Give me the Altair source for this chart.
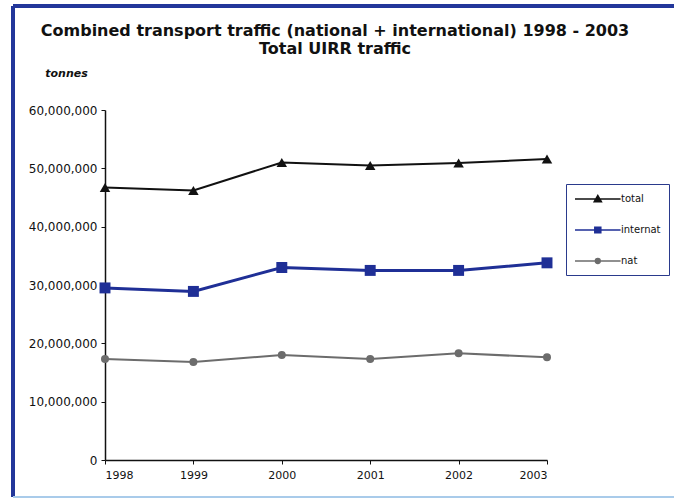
import altair as alt
import pandas as pd

# Combined transport traffic, tonnes per year
years = [1998, 1999, 2000, 2001, 2002, 2003]
total = [46_700_000, 46_200_000, 51_000_000, 50_500_000, 50_900_000, 51_600_000]
internat = [29_500_000, 28_900_000, 33_000_000, 32_500_000, 32_500_000, 33_800_000]
nat = [17_300_000, 16_800_000, 18_000_000, 17_300_000, 18_300_000, 17_600_000]

series_names = ["total", "internat", "nat"]
y_ticks = [0, 10_000_000, 20_000_000, 30_000_000, 40_000_000, 50_000_000, 60_000_000]

# styling per series
series_colors = ["#111111", "#1f2f96", "#6c6c6c"]
marker_shapes = ["triangle-up", "square", "circle"]
marker_sizes = [110, 120, 64]
line_widths = [2, 3, 2]
# legend glyphs: a short line with the series marker in the middle
legend_paths = [
    "M-1,0H6.6M2.2,0.45L3.4,0.45L2.8,-0.6Z",
    "M-1,0H6.6M2.3,-0.45H3.3V0.45H2.3Z",
    "M-1,0H6.6M2.4,0A0.4,0.4 0 1,0 3.2,0A0.4,0.4 0 1,0 2.4,0Z",
]

rows = []
for name, vals in zip(series_names, [total, internat, nat]):
    for yr, v in zip(years, vals):
        rows.append({"year": yr, "series": name, "tonnes": v})
df = pd.DataFrame(rows)

FONT = "DejaVu Sans"

x_enc = alt.X(
    "year:Q",
    scale=alt.Scale(domain=[1998, 2003], nice=False, zero=False),
    axis=alt.Axis(
        values=years, format="d", title=None, grid=False,
        labelFont=FONT, labelFontSize=11, labelColor="#111111", labelPadding=5,
        domainColor="#111111", domainWidth=1.5, tickColor="#111111", tickSize=4,
    ),
)
y_enc = alt.Y(
    "tonnes:Q",
    scale=alt.Scale(domain=[0, 60_000_000], nice=False),
    axis=alt.Axis(
        values=y_ticks, format=",d", grid=False,
        labelFont=FONT, labelFontSize=12, labelColor="#111111", labelPadding=4,
        domainColor="#111111", domainWidth=1.5, tickColor="#111111", tickSize=4,
        title="tonnes", titleAngle=0, titleX=-39, titleY=-37,
        titleAlign="center", titleBaseline="middle",
        titleFont=FONT, titleFontSize=11, titleFontStyle="italic", titleFontWeight="bold",
        titleColor="#111111",
    ),
)

base = alt.Chart(df)
layers = []
for name, col, shp, sz, lw in zip(series_names, series_colors, marker_shapes, marker_sizes, line_widths):
    sub = base.transform_filter(alt.datum.series == name)
    layers.append(sub.mark_line(color=col, strokeWidth=lw).encode(x=x_enc, y=y_enc))
    layers.append(
        sub.mark_point(shape=shp, size=sz, filled=True, color=col, opacity=1).encode(x=x_enc, y=y_enc)
    )

legend_def = alt.Legend(
    title=None, orient="none", legendX=461, legendY=74,
    symbolSize=144, symbolStrokeWidth=1.5, labelOffset=33,
    labelFont=FONT, labelFontSize=10, labelColor="#111111",
    strokeColor="#2a3a8c", fillColor="white", padding=8, rowPadding=18,
)
dom = alt.Scale(domain=series_names, range=series_colors)
legend_layer = (
    base.transform_filter("false")
    .mark_point(filled=True, opacity=1)
    .encode(
        x=x_enc, y=y_enc,
        fill=alt.Fill("series:N", scale=dom, legend=legend_def),
        stroke=alt.Stroke("series:N", scale=dom, legend=legend_def),
        shape=alt.Shape("series:N", scale=alt.Scale(domain=series_names, range=legend_paths), legend=legend_def),
    )
)

# outer frame of the figure
frame_dark = "#23379a"
frame_light = "#a9cbea"
left_edge = base.mark_rule(color=frame_dark, strokeWidth=3).encode(
    x=alt.value(-92), y=alt.value(-104), y2=alt.value(387)
)
top_edge = base.mark_rule(color=frame_dark, strokeWidth=3).encode(
    x=alt.value(-92), x2=alt.value(569), y=alt.value(-104)
)
bottom_edge = base.mark_rule(color=frame_light, strokeWidth=2).encode(
    x=alt.value(-92), x2=alt.value(569), y=alt.value(387)
)

chart = (
    alt.layer(left_edge, top_edge, bottom_edge, *layers, legend_layer)
    .properties(
        width=442, height=350,
        autosize=alt.AutoSizeParams(type="none"),
        padding={"left": 105, "top": 110, "right": 127, "bottom": 39},
        title=alt.Title(
            text=["Combined transport traffic  (national + international) 1998 - 2003", "Total UIRR traffic"],
            font="DejaVu Sans", fontSize=16, fontWeight="bold", color="#111111",
            anchor="middle", frame="group", dx=9, offset=-52, lineHeight=18,
        ),
        background="white",
    )
    .configure_view(stroke=None)
)

chart.save("out.html", embed_options={"renderer": "svg", "actions": False})
